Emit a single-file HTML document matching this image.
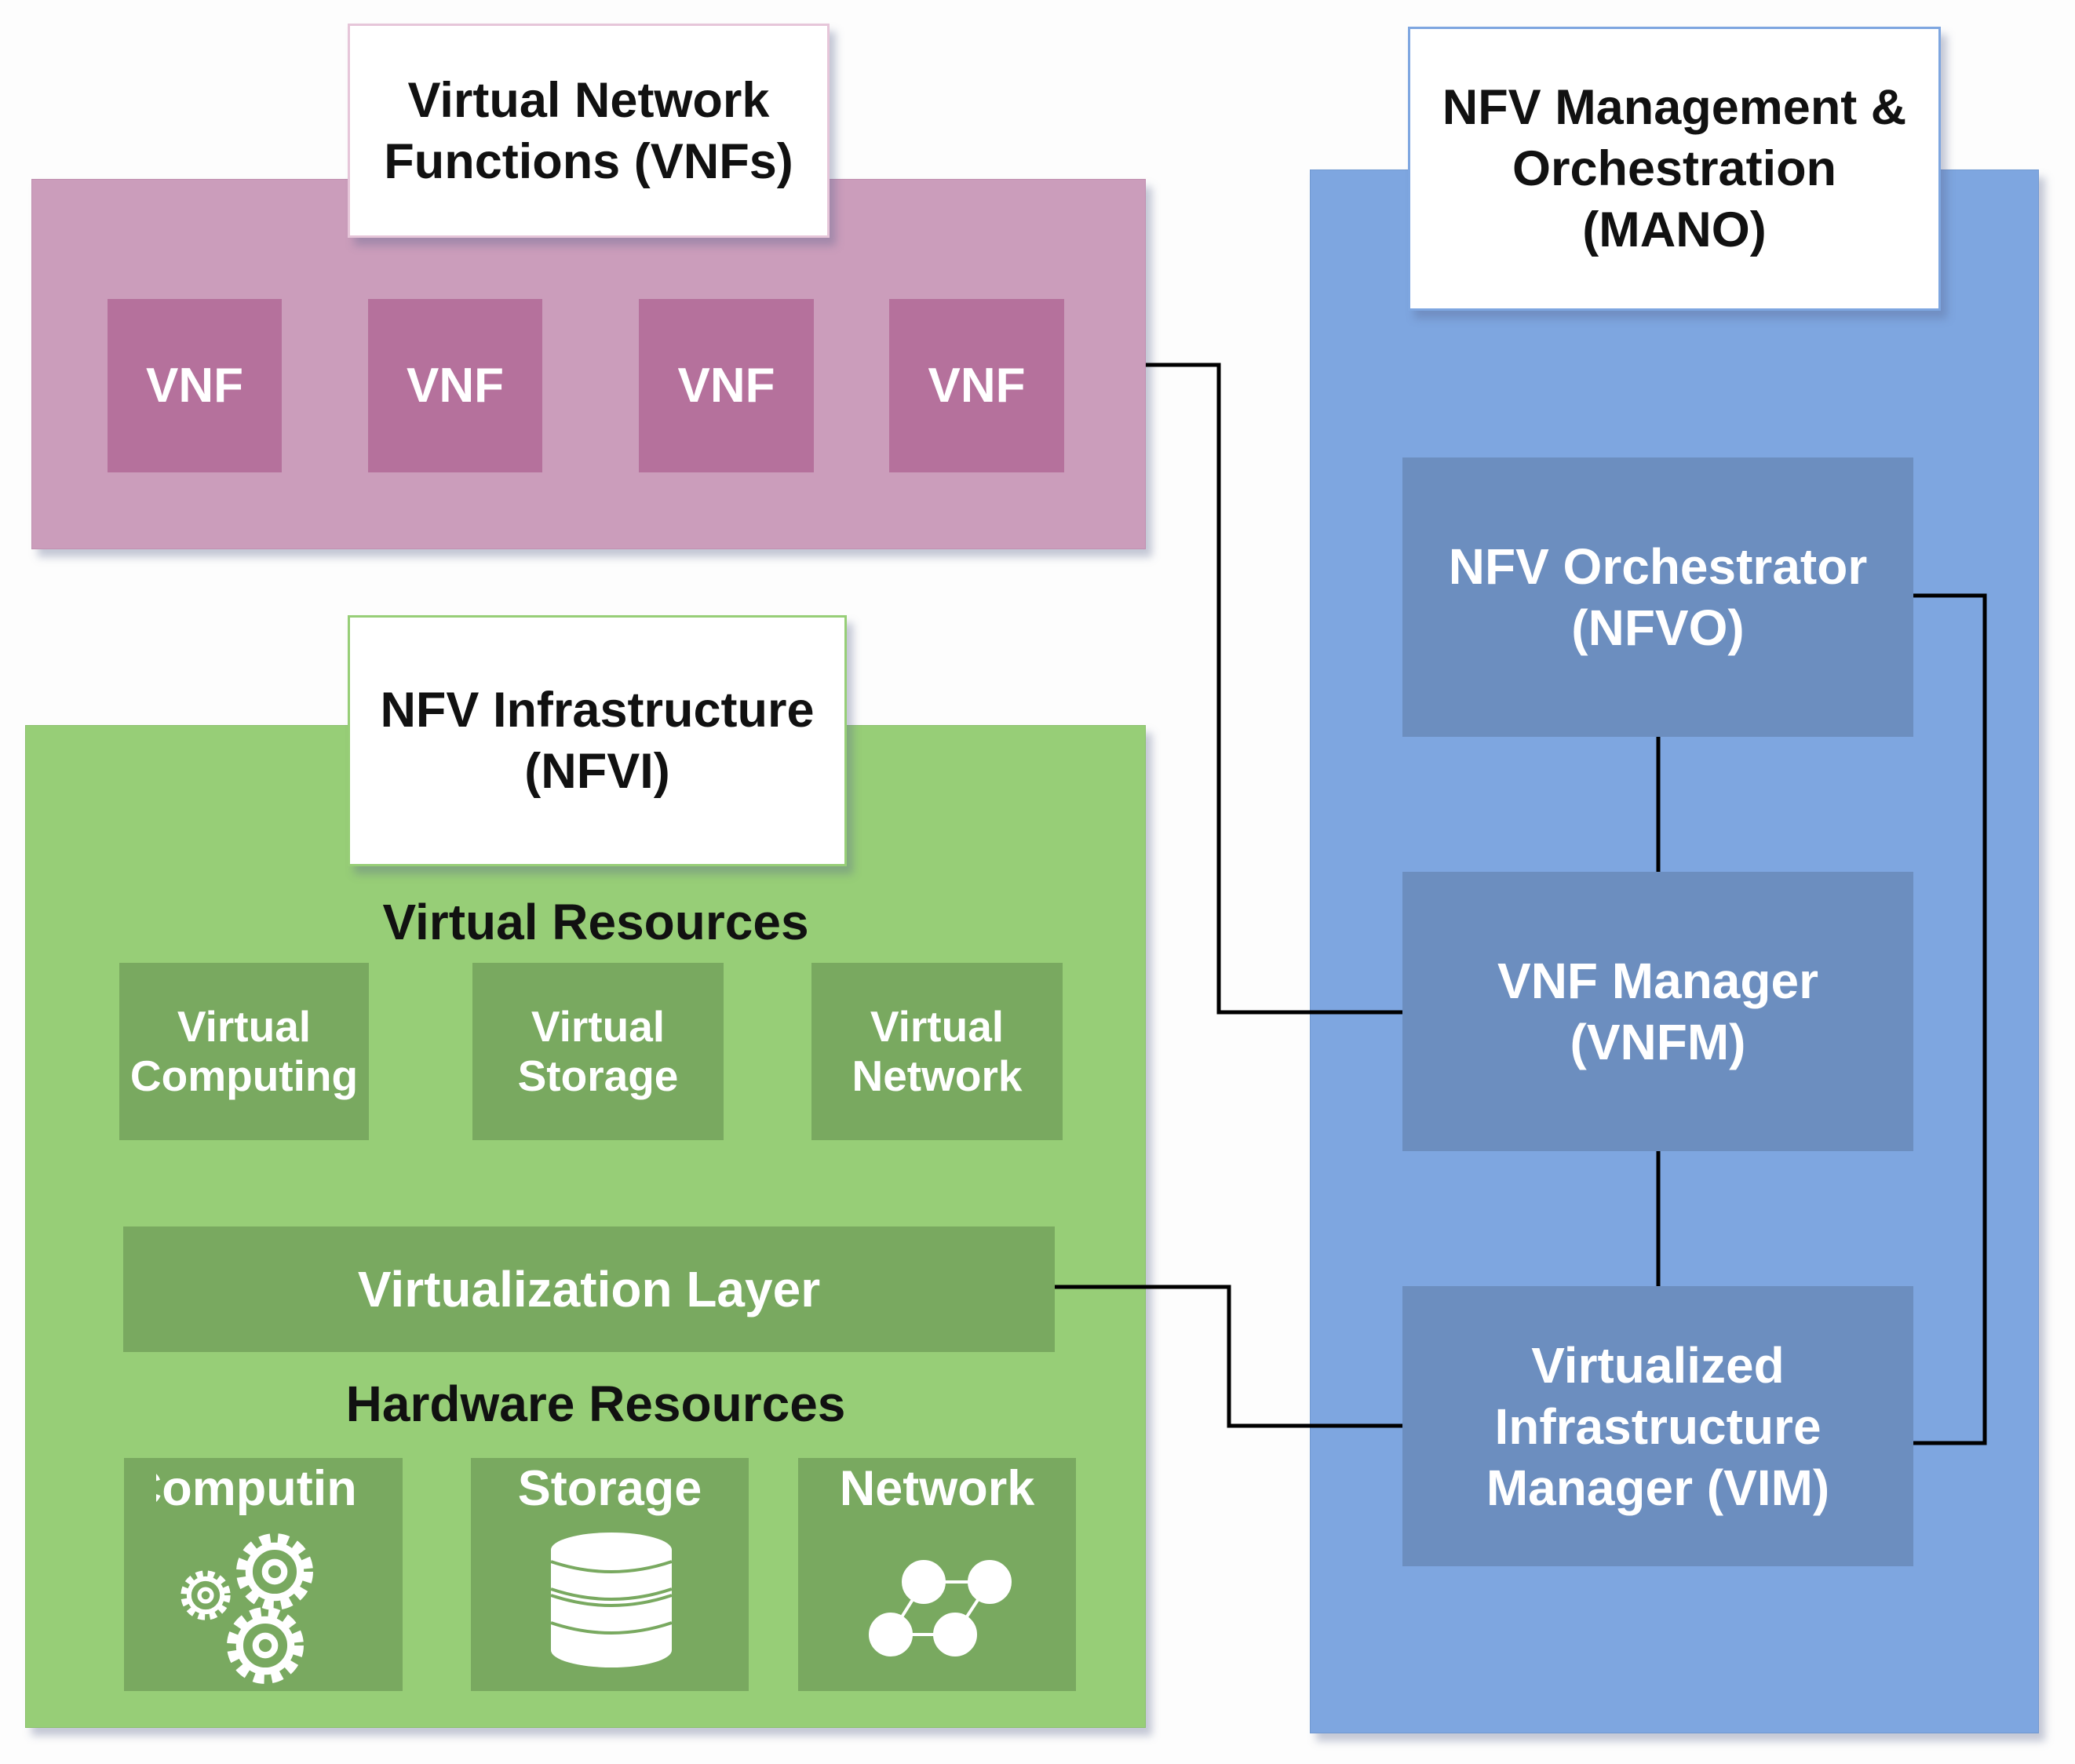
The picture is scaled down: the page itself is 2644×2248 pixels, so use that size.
<!DOCTYPE html>
<html><head><meta charset="utf-8"><style>
html,body{margin:0;padding:0;background:#fdfdfd;}
body{width:2644px;height:2248px;position:relative;overflow:hidden;font-family:"Liberation Sans",Arial,sans-serif;font-weight:bold;}
.a{position:absolute;box-sizing:border-box;}
.c{display:flex;align-items:center;justify-content:center;text-align:center;}
.sh{box-shadow:8px 10px 10px rgba(90,100,140,0.35);}
.w{color:#fff;}
</style></head><body>
<!-- Pink panel -->
<div class="a sh" style="left:40px;top:228px;width:1420px;height:472px;background:#cb9dbb;border:1px solid #c090b0;"></div>
<div class="a c sh" style="left:443px;top:30px;width:614px;height:273px;background:#fff;border:3px solid #e6c6d9;font-size:63px;line-height:78px;color:#111;">Virtual Network<br>Functions (VNFs)</div>
<div class="a c w" style="left:137px;top:381px;width:222px;height:221px;background:#b5719c;font-size:62px;">VNF</div>
<div class="a c w" style="left:469px;top:381px;width:222px;height:221px;background:#b5719c;font-size:62px;">VNF</div>
<div class="a c w" style="left:814px;top:381px;width:223px;height:221px;background:#b5719c;font-size:62px;">VNF</div>
<div class="a c w" style="left:1133px;top:381px;width:223px;height:221px;background:#b5719c;font-size:62px;">VNF</div>

<!-- Green panel -->
<div class="a sh" style="left:32px;top:924px;width:1428px;height:1278px;background:#97ce77;border:1px solid #8cc06e;"></div>
<div class="a c sh" style="left:443px;top:784px;width:636px;height:320px;background:#fff;border:3px solid #97ce77;font-size:63px;line-height:78px;color:#111;">NFV Infrastructure<br>(NFVI)</div>
<div class="a c" style="left:32px;top:1140px;width:1454px;height:70px;font-size:64px;color:#111;">Virtual Resources</div>
<div class="a c w" style="left:152px;top:1227px;width:318px;height:226px;background:#79a960;font-size:55px;line-height:63px;">Virtual<br>Computing</div>
<div class="a c w" style="left:602px;top:1227px;width:320px;height:226px;background:#79a960;font-size:55px;line-height:63px;">Virtual<br>Storage</div>
<div class="a c w" style="left:1034px;top:1227px;width:320px;height:226px;background:#79a960;font-size:55px;line-height:63px;">Virtual<br>Network</div>
<div class="a c w" style="left:157px;top:1563px;width:1187px;height:160px;background:#79a960;font-size:64px;">Virtualization Layer</div>
<div class="a c" style="left:32px;top:1754px;width:1454px;height:70px;font-size:64px;color:#111;">Hardware Resources</div>

<div class="a" style="left:158px;top:1858px;width:355px;height:297px;background:#79a960;"></div>
<div class="a" style="left:199px;top:1862px;width:256px;height:70px;overflow:hidden;"><div class="a w" style="left:-63px;top:0;width:382px;text-align:center;font-size:63px;line-height:70px;white-space:nowrap;">Computing</div></div>
<div class="a" style="left:600px;top:1858px;width:354px;height:297px;background:#79a960;"></div>
<div class="a c w" style="left:600px;top:1862px;width:354px;height:70px;font-size:63px;">Storage</div>
<div class="a" style="left:1017px;top:1858px;width:354px;height:297px;background:#79a960;"></div>
<div class="a c w" style="left:1017px;top:1862px;width:354px;height:70px;font-size:63px;">Network</div>

<svg class="a" style="left:0;top:0" width="2644" height="2248">
 <defs>
  <g id="gear">
   <circle r="32" fill="none" stroke="#fff" stroke-width="9"/>
   <circle r="42" fill="none" stroke="#fff" stroke-width="12" stroke-dasharray="13 9.4"/>
   <circle r="12" fill="none" stroke="#fff" stroke-width="8"/>
  </g>
 </defs>
 <g transform="translate(262,2033) scale(0.66)"><use href="#gear"/></g>
 <g transform="translate(350,2003) scale(1.02)"><use href="#gear"/></g>
 <g transform="translate(338,2097) scale(1.02)"><use href="#gear"/></g>
 <!-- database -->
 <g fill="#fff">
  <rect x="702" y="1975" width="154" height="128"/>
  <ellipse cx="779" cy="1975" rx="77" ry="22"/>
  <ellipse cx="779" cy="2103" rx="77" ry="22"/>
 </g>
 <g fill="none" stroke="#79a960" stroke-width="4">
  <path d="M702 1990 Q779 2016 856 1990"/>
  <path d="M702 2025 Q779 2051 856 2025"/>
  <path d="M702 2033 Q779 2059 856 2033"/>
  <path d="M702 2068 Q779 2094 856 2068"/>
 </g>
 <!-- network -->
 <g stroke="#fff" stroke-width="4" fill="#fff">
  <line x1="1177" y1="2016" x2="1261" y2="2016"/>
  <line x1="1135" y1="2083" x2="1217" y2="2083"/>
  <line x1="1177" y1="2016" x2="1135" y2="2083"/>
  <line x1="1261" y1="2016" x2="1217" y2="2083"/>
  <circle cx="1177" cy="2016" r="26"/><circle cx="1261" cy="2016" r="26"/>
  <circle cx="1135" cy="2083" r="26"/><circle cx="1217" cy="2083" r="26"/>
 </g>
</svg>

<!-- Blue panel -->
<div class="a sh" style="left:1669px;top:216px;width:929px;height:1993px;background:#7ea6e0;border:1px solid #7098d0;"></div>
<div class="a c sh" style="left:1794px;top:34px;width:679px;height:362px;background:#fff;border:3px solid #7ea6e0;font-size:63px;line-height:78px;color:#111;">NFV Management &amp;<br>Orchestration<br>(MANO)</div>
<div class="a c w" style="left:1787px;top:583px;width:651px;height:356px;background:#6c8ebf;font-size:64px;line-height:78px;">NFV Orchestrator<br>(NFVO)</div>
<div class="a c w" style="left:1787px;top:1111px;width:651px;height:356px;background:#6c8ebf;font-size:64px;line-height:78px;">VNF Manager<br>(VNFM)</div>
<div class="a c w" style="left:1787px;top:1639px;width:651px;height:357px;background:#6c8ebf;font-size:64px;line-height:78px;">Virtualized<br>Infrastructure<br>Manager (VIM)</div>

<svg class="a" style="left:0;top:0" width="2644" height="2248">
 <g fill="none" stroke="#000" stroke-width="5">
  <polyline points="1460,465 1553,465 1553,1290 1787,1290"/>
  <polyline points="1344,1640 1566,1640 1566,1817 1787,1817"/>
  <line x1="2113" y1="939" x2="2113" y2="1111"/>
  <line x1="2113" y1="1467" x2="2113" y2="1639"/>
  <polyline points="2438,759 2529,759 2529,1839 2438,1839"/>
 </g>
</svg>
</body></html>
